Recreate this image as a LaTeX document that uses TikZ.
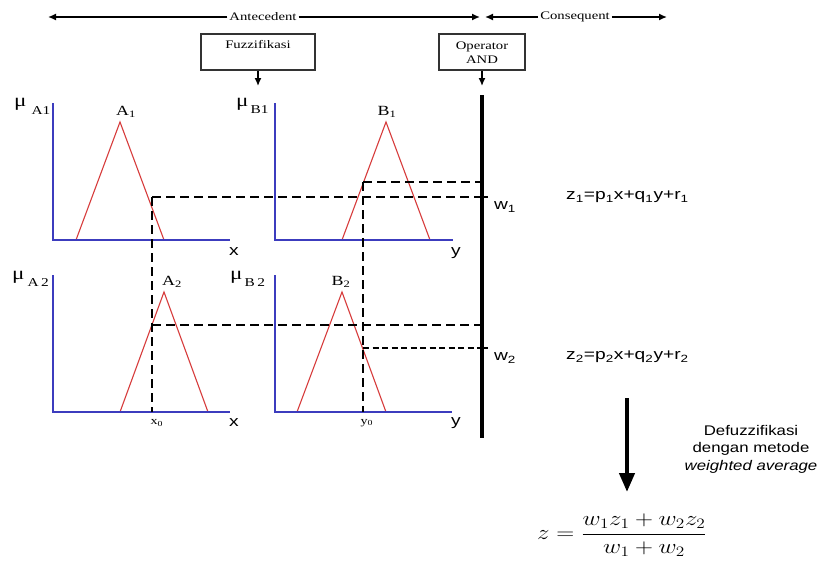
\documentclass[tikz,border=0pt]{standalone}
\usepackage{fontspec}
\usepackage{graphicx}
\setmainfont{Liberation Serif}
\newfontfamily\sansf{Liberation Sans}
\usetikzlibrary{arrows.meta}
\definecolor{axblue}{RGB}{60,60,190}
\definecolor{trired}{RGB}{215,60,60}
\newcommand{\hx}[1]{\scalebox{1.28}[1]{#1}}
\newcommand{\hy}[1]{\scalebox{1.2}[1]{#1}}
\begin{document}
\begin{tikzpicture}[x=1pt,y=-1pt,
  axis/.style={draw=axblue,line width=1.6pt},
  tri/.style={draw=trired,line width=1.1pt},
  lvl/.style={line width=2.6pt,dash pattern=on 9pt off 5pt},
  lvlthin/.style={line width=2pt,dash pattern=on 6pt off 3.5pt},
  arr/.style={-{Latex[length=8pt,width=7pt]},line width=1.4pt},
  toplab/.style={inner sep=2pt,font=\fontsize{11.5}{14}\selectfont},
  boxnode/.style={draw=black!80,line width=1.5pt,minimum width=114pt,minimum height=36pt,inner sep=0pt},
  serlab/.style={inner sep=0pt,font=\fontsize{14}{14}\selectfont},
  mulab/.style={inner sep=0pt,anchor=base west,font=\fontsize{18}{18}\selectfont},
  sanslab/.style={inner sep=0pt,font=\sansf\fontsize{15}{15}\selectfont},
  formlab/.style={inner sep=0pt,anchor=west,font=\sansf\fontsize{15}{15}\selectfont},
]
\useasboundingbox (0,0) rectangle (823,562);
\fill[white] (0,0) rectangle (823,562);

% top arrows
\node[toplab] (ant) at (263,17) {\hx{Antecedent}};
\node[toplab] (con) at (575,17) {\hx{Consequent}};
\coordinate (antL) at (48,17);
\coordinate (antR) at (480,17);
\coordinate (conL) at (485,17);
\coordinate (conR) at (667,17);
\draw[arr] (ant.west) -- (antL);
\draw[arr] (ant.east) -- (antR);
\draw[arr] (con.west) -- (conL);
\draw[arr] (con.east) -- (conR);

% boxes
\node[boxnode] (fuz) at (258,52) {};
\node[toplab] (fuzt) at (258,45) {\hx{Fuzzifikasi}};
\node[boxnode,minimum width=86pt] (op) at (482,52) {};
\node[toplab,align=center] (opt) at (482,53) {\hx{Operator}\\\hx{AND}};
\coordinate (fuzE) at (258,86);
\coordinate (opE) at (482,86);
\draw[arr] (fuz.south) -- (fuzE);
\draw[arr] (op.south) -- (opE);

% vertical AND line
\coordinate (vT) at (482,95);
\coordinate (vB) at (482,438);
\draw[line width=3.4pt] (vT) -- (vB);

% triangles
\coordinate (a1l) at (76,240);  \coordinate (a1p) at (120,122); \coordinate (a1e) at (164,240);
\coordinate (b1l) at (342,240); \coordinate (b1p) at (386,122); \coordinate (b1e) at (430,240);
\coordinate (a2l) at (120,412); \coordinate (a2p) at (164,292); \coordinate (a2e) at (208,412);
\coordinate (b2l) at (297,412); \coordinate (b2p) at (342,292); \coordinate (b2e) at (386,412);
\draw[tri] (a1l) -- (a1p) -- (a1e);
\draw[tri] (b1l) -- (b1p) -- (b1e);
\draw[tri] (a2l) -- (a2p) -- (a2e);
\draw[tri] (b2l) -- (b2p) -- (b2e);

% axes
\coordinate (a1t) at (53,103);  \coordinate (a1o) at (53,240);  \coordinate (a1r) at (230,240);
\coordinate (b1t) at (275,103); \coordinate (b1o) at (275,240); \coordinate (b1r) at (453,240);
\coordinate (a2t) at (53,275);  \coordinate (a2o) at (53,412);  \coordinate (a2r) at (230,412);
\coordinate (b2t) at (275,275); \coordinate (b2o) at (275,412); \coordinate (b2r) at (452,412);
\draw[axis] (a1t) -- (a1o) -- (a1r);
\draw[axis] (b1t) -- (b1o) -- (b1r);
\draw[axis] (a2t) -- (a2o) -- (a2r);
\draw[axis] (b2t) -- (b2o) -- (b2r);

% dashed level lines
\coordinate (d1) at (152,197);  \coordinate (d1e) at (482,197); \coordinate (d1b) at (152,412);
\coordinate (e1) at (363,182);  \coordinate (e1e) at (482,182); \coordinate (e1b) at (363,412);
\coordinate (d2) at (152,325);  \coordinate (d2e) at (482,325);
\coordinate (e2) at (363,348);  \coordinate (e2e) at (482,348);
\draw[lvl] (d1) -- (d1e);
\draw[lvl] (d1) -- (d1b);
\draw[lvl] (e1) -- (e1e);
\draw[lvl] (e1) -- (e1b);
\draw[lvl] (d2) -- (d2e);
\draw[lvlthin] (e2) -- (e2e);
\draw[line width=1.8pt] (d1e) -- ++(6,0);
\draw[line width=1.8pt] (e2e) -- ++(6,0);

% mu labels
\node[mulab] (muA1) at (14,106) {\hx{μ}\hspace{5pt}\raisebox{-8pt}{\fontsize{12}{12}\selectfont\hx{A1}}};
\node[mulab] (muB1) at (236,106) {\hx{μ}\hspace{2pt}\raisebox{-7pt}{\fontsize{12}{12}\selectfont\hx{B1}}};
\node[mulab] (muA2) at (12,279) {\hx{μ}\hspace{3pt}\raisebox{-7pt}{\fontsize{12}{12}\selectfont\hx{A\,2}}};
\node[mulab] (muB2) at (230,279) {\hx{μ}\hspace{2pt}\raisebox{-7pt}{\fontsize{12}{12}\selectfont\hx{B\,2}}};

% set labels
\node[serlab] (lA1) at (126,112) {\hx{A\textsubscript{1}}};
\node[serlab] (lB1) at (387,112) {\hx{B\textsubscript{1}}};
\node[serlab] (lA2) at (172,282) {\hx{A\textsubscript{2}}};
\node[serlab] (lB2) at (341,282) {\hx{B\textsubscript{2}}};

% axis variable labels
\node[sanslab] (xl1) at (234,252) {\hx{x}};
\node[sanslab] (yl1) at (456,253) {\hx{y}};
\node[sanslab] (xl2) at (234,423) {\hx{x}};
\node[sanslab] (yl2) at (456,423) {\hx{y}};
\node[inner sep=0pt,font=\fontsize{11}{11}\selectfont] (x0) at (157,423) {\hx{x\textsubscript{0}}};
\node[inner sep=0pt,font=\fontsize{11}{11}\selectfont] (y0) at (367,423) {\hx{y\textsubscript{0}}};

% weights and consequents
\node[sanslab] (w1) at (505,207) {\hx{w\textsubscript{1}}};
\node[sanslab] (w2) at (505,358) {\hx{w\textsubscript{2}}};
\node[formlab] (z1) at (566,197) {\hx{z\textsubscript{1}=p\textsubscript{1}x+q\textsubscript{1}y+r\textsubscript{1}}};
\node[formlab] (z2) at (566,357) {\hx{z\textsubscript{2}=p\textsubscript{2}x+q\textsubscript{2}y+r\textsubscript{2}}};

% defuzzification
\coordinate (dT) at (627,398);
\coordinate (dB) at (627,492);
\draw[line width=4.2pt,-{Triangle[length=19pt,width=15pt]}] (dT) -- (dB);
\node[inner sep=0pt,align=center,font=\sansf\fontsize{14}{17.5}\selectfont] (def) at (751,449)
  {\hy{Defuzzifikasi}\\\hy{dengan metode}\\\hy{\itshape weighted average}};
\node[inner sep=0pt,font=\fontsize{20}{24}\selectfont] (zf) at (622,535)
  {\scalebox{1.2}[1]{$\displaystyle z=\frac{w_1z_1+w_2z_2}{w_1+w_2}$}};
\end{tikzpicture}
\end{document}
